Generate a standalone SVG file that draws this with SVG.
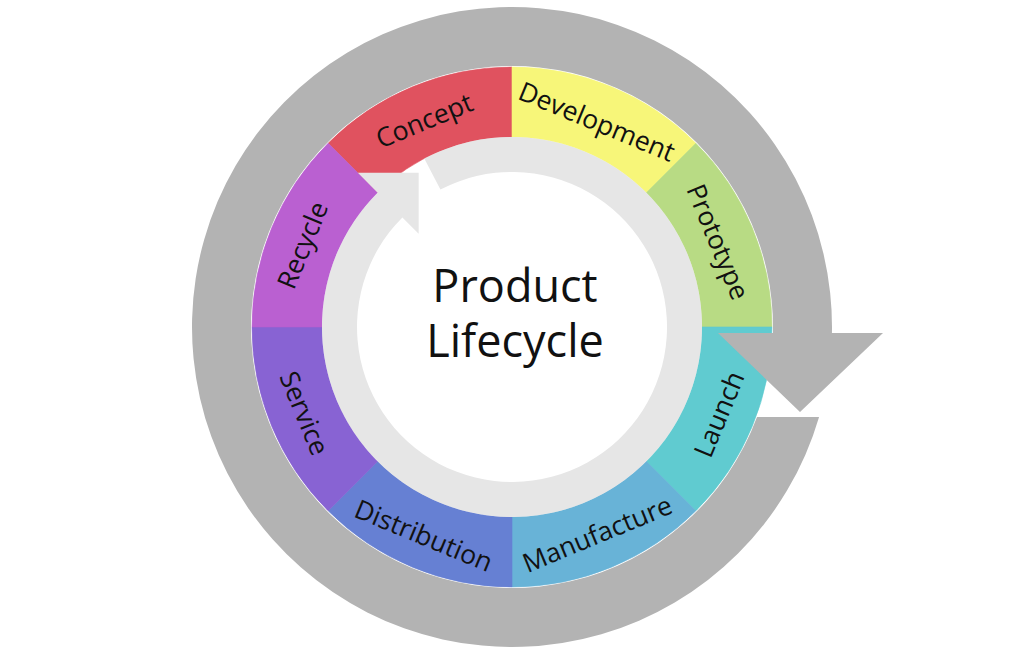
<svg xmlns="http://www.w3.org/2000/svg" width="1024" height="655" viewBox="0 0 1024 655">
<style>
.seg{stroke-width:0.6}
.lbl{font-family:"Open Sans","Noto Sans","Liberation Sans",sans-serif;font-size:26.5px;fill:#111;text-anchor:middle;dominant-baseline:central}
.title{font-family:"Open Sans","Noto Sans","Liberation Sans",sans-serif;font-size:45px;fill:#111;text-anchor:middle}
</style>
<rect x="0" y="0" width="1024" height="655" fill="#ffffff"/>
<g id="concept">
<path class="seg" d="M328.15 143.15 A260 260 0 0 1 512 67 L512 137 A190 190 0 0 0 377.65 192.65 Z" fill="#E0525F" stroke="#E0525F"/>
<text class="lbl" transform="translate(424 120) rotate(-22.5)">Concept</text>
</g>
<g id="development">
<path class="seg" d="M512 67 A260 260 0 0 1 695.85 143.15 L646.35 192.65 A190 190 0 0 0 512 137 Z" fill="#F7F679" stroke="#F7F679"/>
<text class="lbl" transform="translate(597 121) rotate(22.5)">Development</text>
</g>
<g id="prototype">
<path class="seg" d="M695.85 143.15 A260 260 0 0 1 772 327 L702 327 A190 190 0 0 0 646.35 192.65 Z" fill="#B8DB84" stroke="#B8DB84"/>
<text class="lbl" transform="translate(718.5 241.5) rotate(67.5)">Prototype</text>
</g>
<g id="launch">
<path class="seg" d="M772 327 A260 260 0 0 1 695.85 510.85 L646.35 461.35 A190 190 0 0 0 702 327 Z" fill="#60CBD0" stroke="#60CBD0"/>
<text class="lbl" transform="translate(718.5 414) rotate(-67.5)">Launch</text>
</g>
<g id="manufacture">
<path class="seg" d="M695.85 510.85 A260 260 0 0 1 512 587 L512 517 A190 190 0 0 0 646.35 461.35 Z" fill="#68B3D7" stroke="#68B3D7"/>
<text class="lbl" transform="translate(597 533.5) rotate(-22.5)">Manufacture</text>
</g>
<g id="distribution">
<path class="seg" d="M512 587 A260 260 0 0 1 328.15 510.85 L377.65 461.35 A190 190 0 0 0 512 517 Z" fill="#6680D3" stroke="#6680D3"/>
<text class="lbl" transform="translate(424 535) rotate(22.5)">Distribution</text>
</g>
<g id="service">
<path class="seg" d="M328.15 510.85 A260 260 0 0 1 252 327 L322 327 A190 190 0 0 0 377.65 461.35 Z" fill="#8863D3" stroke="#8863D3"/>
<text class="lbl" transform="translate(305 413) rotate(67.5)">Service</text>
</g>
<g id="recycle">
<path class="seg" d="M252 327 A260 260 0 0 1 328.15 143.15 L377.65 192.65 A190 190 0 0 0 322 327 Z" fill="#BA60D1" stroke="#BA60D1"/>
<text class="lbl" transform="translate(302 245) rotate(-67.5)">Recycle</text>
</g>
<g id="connectors">
<path id="outer-cycle-arrow" d="M819.08 417 A320 320 0 1 1 831.94 333 L883 333 L800 412 L718 333 L772.93 333 A261 261 0 1 0 757 417 Z" fill="#B3B3B3"/>
<path id="inner-cycle-arrow" d="M424.27 158.47 A190 190 0 1 1 377.65 192.65 L357.85 172.85 L418.67 172.85 L418.66 233.66 L402.4 217.4 A155 155 0 1 0 440.43 189.51 Z" fill="#E6E6E6"/>
</g>
<g id="center">
<text class="title" x="515" y="302">Product</text>
<text class="title" x="515" y="357">Lifecycle</text>
</g>
</svg>
